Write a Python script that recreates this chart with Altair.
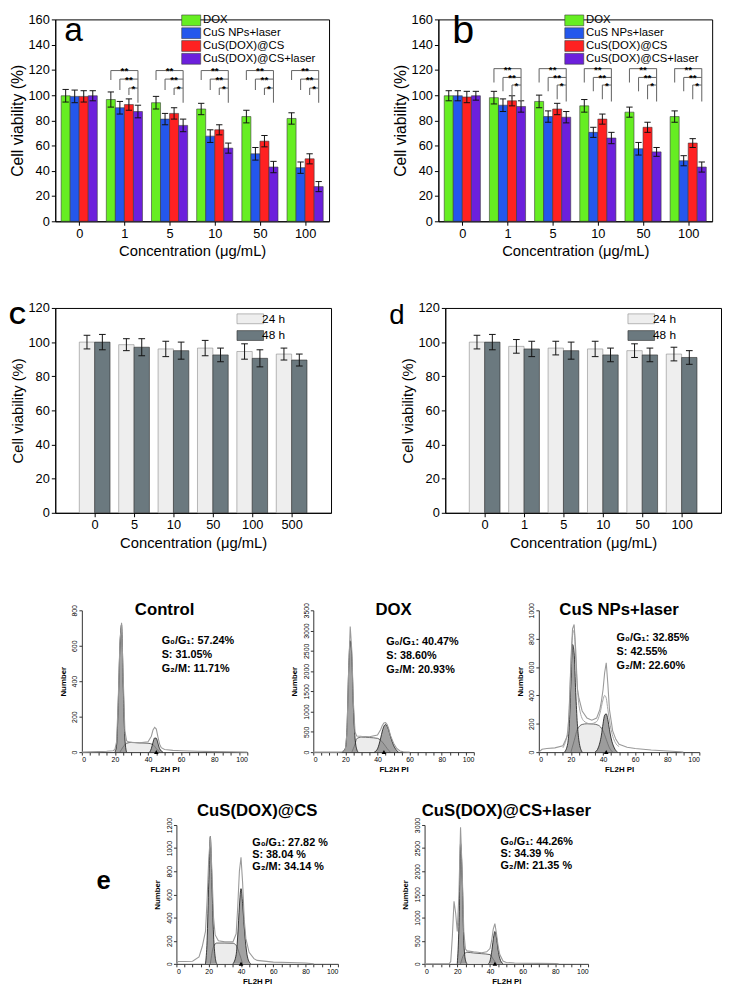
import json
import altair as alt
import pandas as pd

FONT = "Liberation Sans"

# ---------------- panels a & b ----------------
conc_ab = ["0", "1", "5", "10", "50", "100"]
series_ab = ["DOX", "CuS NPs+laser", "CuS(DOX)@CS", "CuS(DOX)@CS+laser"]
colors_ab = ["#66ee22", "#2457ec", "#ff2121", "#6c20dc"]

a_dox = [99.5, 96.5, 94.0, 89.0, 83.0, 81.5]
a_dox_err = [5.0, 6.0, 5.0, 4.5, 5.0, 4.5]
a_cus = [99.0, 90.0, 81.0, 67.5, 53.5, 42.5]
a_cus_err = [5.0, 5.0, 4.5, 5.0, 5.0, 4.5]
a_cs = [99.0, 92.5, 85.5, 72.5, 63.5, 49.5]
a_cs_err = [4.5, 4.5, 4.5, 4.0, 4.5, 4.0]
a_las = [99.5, 87.0, 76.0, 58.0, 43.0, 27.5]
a_las_err = [4.0, 5.0, 5.0, 4.0, 4.5, 4.0]
a_br_top = [119.5, 112.7, 105.6]
a_br_leg = [112.0, 104.0, 100.0]
a_br_right = 94.0

b_dox = [99.5, 98.0, 95.0, 91.5, 86.5, 83.0]
b_dox_err = [4.0, 5.0, 5.0, 5.0, 4.0, 4.5]
b_cus = [99.5, 92.0, 83.0, 70.5, 57.5, 48.0]
b_cus_err = [4.0, 5.0, 4.5, 4.0, 5.0, 4.0]
b_cs = [98.5, 95.5, 89.0, 81.0, 74.5, 62.0]
b_cs_err = [4.5, 4.0, 4.5, 4.0, 4.0, 3.5]
b_las = [99.5, 91.0, 82.5, 66.0, 55.0, 43.0]
b_las_err = [3.5, 4.5, 4.5, 4.5, 3.5, 4.0]
b_br_top = [121.0, 114.0, 108.0]
b_br_leg = [110.0, 103.0, 96.7]
b_br_right = 95.0
stars = ["**", "**", "*"]

# ---------------- panels c & d ----------------
conc_c = ["0", "5", "10", "50", "100", "500"]
conc_d = ["0", "1", "5", "10", "50", "100"]
series_cd = ["24 h", "48 h"]
fill_cd = ["#eeeeee", "#6b797f"]
c_24 = [100.0, 98.5, 96.0, 96.5, 94.5, 93.0]
c_24_err = [4.0, 3.5, 4.5, 4.5, 4.5, 3.5]
c_48 = [100.0, 97.0, 95.0, 92.5, 90.5, 89.5]
c_48_err = [4.5, 5.0, 5.0, 4.0, 5.0, 3.5]
d_24 = [100.0, 97.5, 96.5, 96.0, 95.0, 93.0]
d_24_err = [4.0, 4.0, 4.0, 4.5, 4.0, 4.0]
d_48 = [100.0, 96.0, 95.0, 92.5, 92.5, 91.0]
d_48_err = [4.5, 4.5, 5.0, 4.0, 4.0, 4.0]

# ---------------- panel e (cell cycle histograms) ----------------
ctrl_env_x = [0, 10, 15, 19, 20, 21, 22, 23, 24, 25, 26, 27, 28, 30, 35, 40, 42, 43, 44, 45, 46, 47, 48, 50, 55, 60, 70, 80, 90, 100]
ctrl_env_y = [0, 3, 5, 8, 15, 60, 300, 620, 730, 420, 120, 65, 58, 55, 52, 58, 90, 125, 140, 130, 85, 45, 25, 15, 10, 8, 5, 3, 2, 0]
ctrl_g1_x = [20, 21, 22, 23, 24, 25, 26, 27]
ctrl_g1_y = [0, 40, 280, 600, 720, 380, 80, 0]
ctrl_s_x = [23, 25, 27, 30, 35, 40, 43, 45, 47]
ctrl_s_y = [0, 30, 50, 55, 52, 50, 42, 20, 0]
ctrl_g2_x = [41, 42, 43, 44, 45, 46, 47, 49]
ctrl_g2_y = [0, 20, 55, 80, 78, 50, 20, 0]

dox_env_x = [0, 15, 18, 20, 21, 22, 23, 24, 25, 26, 27, 30, 35, 40, 42, 43, 44, 45, 46, 47, 48, 50, 52, 54, 56, 60]
dox_env_y = [0, 0, 10, 60, 500, 2000, 3100, 2500, 1200, 500, 400, 390, 380, 420, 560, 660, 720, 730, 680, 570, 420, 220, 90, 30, 10, 0]
dox_g1_x = [18, 20, 21, 22, 23, 24, 25, 26, 27, 28]
dox_g1_y = [0, 100, 600, 2000, 2750, 2350, 1100, 350, 80, 0]
dox_s_x = [24, 26, 27, 30, 35, 40, 42, 44, 46, 48]
dox_s_y = [0, 200, 330, 370, 360, 340, 290, 200, 90, 0]
dox_g2_x = [38, 40, 42, 43, 44, 45, 46, 47, 48, 50, 52, 53]
dox_g2_y = [0, 80, 350, 520, 640, 680, 640, 540, 400, 170, 40, 0]

cus_env_x = [0, 2, 5, 10, 15, 18, 19, 20, 21, 22, 23, 24, 25, 27, 30, 33, 36, 38, 39, 40, 41, 42, 43, 44, 46, 48, 50, 55, 60, 70, 80, 88, 90]
cus_env_y = [0, 20, 25, 30, 45, 120, 300, 650, 870, 900, 720, 450, 380, 290, 240, 225, 240, 300, 360, 440, 560, 630, 480, 300, 150, 90, 55, 35, 25, 15, 8, 3, 0]
cus_env2_x = [15, 18, 20, 21, 22, 23, 25, 28, 32, 36, 38, 40, 41, 42, 43, 45, 48, 50]
cus_env2_y = [30, 150, 600, 820, 860, 650, 330, 220, 200, 215, 270, 370, 400, 380, 300, 160, 60, 40]
cus_g1_x = [16, 18, 19, 20, 21, 22, 23, 24, 25, 27]
cus_g1_y = [0, 60, 200, 500, 760, 700, 420, 200, 80, 0]
cus_s_x = [20, 22, 24, 27, 30, 34, 37, 40, 42, 44, 46]
cus_s_y = [0, 80, 160, 195, 200, 198, 190, 150, 90, 30, 0]
cus_g2_x = [35, 37, 39, 40, 41, 42, 43, 44, 45, 47, 49]
cus_g2_y = [0, 30, 120, 200, 260, 270, 230, 160, 100, 30, 0]

cd_env_x = [0, 1, 5, 10, 14, 16, 18, 19, 20, 21, 22, 23, 24, 26, 30, 35, 37, 38, 39, 40, 41, 42, 43, 45, 48, 50, 60, 70, 80, 85]
cd_env_y = [0, 20, 20, 22, 60, 150, 280, 550, 900, 1100, 800, 400, 250, 200, 190, 190, 260, 500, 800, 920, 700, 380, 220, 100, 45, 30, 15, 12, 8, 0]
cd_g1_x = [18, 19, 20, 21, 22, 23, 24, 25]
cd_g1_y = [0, 200, 700, 1100, 700, 250, 60, 0]
cd_s_x = [21, 23, 25, 30, 35, 37, 39, 41]
cd_s_y = [0, 150, 180, 180, 178, 160, 90, 0]
cd_g2_x = [35, 37, 38, 39, 40, 41, 42, 43, 44, 46]
cd_g2_y = [0, 80, 250, 500, 650, 520, 320, 160, 60, 0]

cdl_env_x = [0, 15, 16, 17, 18, 19, 20, 21, 22, 23, 24, 25, 26, 30, 35, 38, 40, 41, 42, 43, 44, 45, 46, 48, 50, 55, 60, 70, 80, 82]
cdl_env_y = [0, 0, 50, 600, 1350, 1100, 700, 1500, 2950, 2000, 700, 320, 280, 260, 240, 260, 330, 500, 750, 870, 650, 380, 200, 60, 30, 20, 15, 10, 5, 0]
cdl_g1_x = [20, 21, 22, 23, 24, 25, 26]
cdl_g1_y = [0, 800, 2600, 1900, 500, 80, 0]
cdl_s_x = [22, 24, 26, 30, 35, 40, 42, 44]
cdl_s_y = [0, 200, 250, 235, 220, 200, 100, 0]
cdl_g2_x = [39, 40, 41, 42, 43, 44, 45, 46, 48]
cdl_g2_y = [0, 60, 250, 520, 700, 560, 300, 120, 0]

ctrl_stats = "G₀/G₁: 57.24%\nS: 31.05%\nG₂/M: 11.71%"
dox_stats = "G₀/G₁: 40.47%\nS: 38.60%\nG₂/M: 20.93%"
cus_stats = "G₀/G₁: 32.85%\n S: 42.55%\nG₂/M: 22.60%"
cd_stats = "G₀/G₁: 27.82 %\nS: 38.04 %\nG₂/M: 34.14 %"
cdl_stats = "G₀/G₁: 44.26%\nS: 34.39 %\nG₂/M: 21.35 %"


def df_xy(xs, ys):
    return pd.DataFrame({"x": xs, "y": ys})


def label_df(t):
    return pd.DataFrame({"t": [t]})


# ---------- grouped bar panel builder ----------
def bar_panel(labels, series, fills, strokes, vals, errs, bw, start, cap, ymax, ystep,
              xdom, width, height, letter, letter_pos, letter_size, letter_weight,
              legend_pos, sym_path, sym_size, row_pad, brackets=None,
              ytitle_size=16, xtitle_size=15, legend_font=12):
    bars, segs = [], []
    for k, (name, vs, es) in enumerate(zip(series, vals, errs)):
        for i, (v, e) in enumerate(zip(vs, es)):
            x0 = i + start + k * bw
            c = x0 + bw / 2
            bars.append(dict(series=name, x=x0, x2=x0 + bw, y=v, y0=0))
            segs.append(dict(x=c, x2=c, y=v - e, y2=v + e))
            segs.append(dict(x=c - cap, x2=c + cap, y=v - e, y2=v - e))
            segs.append(dict(x=c - cap, x2=c + cap, y=v + e, y2=v + e))
    bars_df = pd.DataFrame(bars)
    segs_df = pd.DataFrame(segs)

    X = alt.X("x:Q", scale=alt.Scale(domain=xdom, nice=False, zero=False),
              axis=alt.Axis(values=list(range(len(labels))),
                            labelExpr=f"{json.dumps(labels)}[round(datum.value)]",
                            title="Concentration (μg/mL)", titleFontSize=xtitle_size,
                            labelFontSize=13, tickSize=4, labelPadding=2, titlePadding=4,
                            grid=False))
    Y = alt.Y("y:Q", scale=alt.Scale(domain=[0, ymax], nice=False),
              axis=alt.Axis(values=list(range(0, ymax + 1, ystep)),
                            title="Cell viability (%)", titleFontSize=ytitle_size,
                            labelFontSize=13, tickSize=4, labelPadding=2, titlePadding=3,
                            grid=False))
    lx, ly = legend_pos
    layers = [
        alt.Chart(bars_df).mark_bar(strokeWidth=0.6).encode(
            x=X, x2=alt.X2("x2"), y=Y, y2=alt.Y2("y0"),
            color=alt.Color("series:N", scale=alt.Scale(domain=series, range=fills),
                            legend=alt.Legend(orient="none", legendX=lx, legendY=ly, title=None,
                                              symbolType=sym_path, symbolSize=sym_size,
                                              symbolStrokeColor="#444", symbolStrokeWidth=0.6,
                                              labelFontSize=legend_font, labelFont=FONT,
                                              rowPadding=row_pad, padding=0, labelOffset=6)),
            stroke=alt.Stroke("series:N", scale=alt.Scale(domain=series, range=strokes), legend=None),
        ),
        alt.Chart(segs_df).mark_rule(color="#111", strokeWidth=1).encode(
            x=X, x2=alt.X2("x2"), y=Y, y2=alt.Y2("y2")),
    ]
    if brackets is not None:
        tops, legs, right = brackets
        bsegs, btxt = [], []
        for i in range(1, len(labels)):
            cs = [i + start + k * bw + bw / 2 for k in range(len(series))]
            cr = cs[-1]
            bsegs.append(dict(x=cr, x2=cr, y=right, y2=tops[0]))
            for j in range(3):
                bsegs.append(dict(x=cs[j], x2=cr, y=tops[j], y2=tops[j]))
                bsegs.append(dict(x=cs[j], x2=cs[j], y=legs[j], y2=tops[j]))
                btxt.append(dict(x=(cs[j] + cr) / 2, y=tops[j], t=stars[j]))
        layers.append(alt.Chart(pd.DataFrame(bsegs)).mark_rule(color="#6d6d6d", strokeWidth=1.1).encode(
            x=X, x2=alt.X2("x2"), y=Y, y2=alt.Y2("y2")))
        layers.append(alt.Chart(pd.DataFrame(btxt)).mark_text(
            fontSize=10, font=FONT, baseline="alphabetic", dy=4, fontWeight="bold").encode(
            x=X, y=Y, text="t:N"))
    layers.append(alt.Chart(label_df(letter)).mark_text(
        align="left", baseline="middle", fontSize=letter_size, font=FONT,
        fontWeight=letter_weight).encode(
        x=alt.value(letter_pos[0]), y=alt.value(letter_pos[1]), text="t:N"))
    return alt.layer(*layers).properties(
        width=width, height=height,
        view=alt.ViewBackground(stroke="black", strokeWidth=1))


# ---------- flow histogram panel builder ----------
def flow_panel(title, ymax, ystep, env, g1, s, g2, tri_x, stats, stats_pos, line_h,
               title_y, width=163, height=144, env2=None):
    X = alt.X("x:Q", scale=alt.Scale(domain=[0, 100], nice=False),
              axis=alt.Axis(values=list(range(0, 101, 5)),
                            labelExpr="datum.value % 20 === 0 ? datum.label : ''",
                            labelFontSize=7, tickSize=3, labelPadding=1, title="FL2H PI",
                            titleFontSize=8, titleFontWeight="bold", titlePadding=3,
                            grid=False, domainColor="#333", tickColor="#333"))
    Y = alt.Y("y:Q", scale=alt.Scale(domain=[0, ymax], nice=False),
              axis=alt.Axis(values=list(range(0, ymax + 1, ystep)), labelAngle=270, format="d",
                            labelFontSize=7, tickSize=3, labelPadding=1, title="Number",
                            titleFontSize=8, titleFontWeight="bold", titlePadding=4,
                            grid=False, domainColor="#333", tickColor="#333"))
    layers = [
        alt.Chart(df_xy(*s)).mark_area(interpolate="monotone", color="#e4e4e4",
                                         line={"color": "#444", "strokeWidth": 0.8}).encode(x=X, y=Y),
        alt.Chart(df_xy(*g1)).mark_area(interpolate="monotone", color="#7b7b7b",
                                          line={"color": "#111", "strokeWidth": 0.8}).encode(x=X, y=Y),
        alt.Chart(df_xy(*g2)).mark_area(interpolate="monotone", color="#7b7b7b",
                                          line={"color": "#111", "strokeWidth": 0.8}).encode(x=X, y=Y),
    ]
    if env2 is not None:
        layers.append(alt.Chart(df_xy(*env2)).mark_line(color="#a5a5a5", strokeWidth=1,
                                                          interpolate="monotone").encode(x=X, y=Y))
    layers += [
        alt.Chart(df_xy(*env)).mark_line(color="#9a9a9a", strokeWidth=1.1).encode(x=X, y=Y),
        alt.Chart(df_xy([tri_x], [0])).mark_point(shape="triangle-up", filled=True, color="black",
                                                  size=22, opacity=1).encode(x=X, y=Y),
        alt.Chart(label_df(title)).mark_text(fontSize=17, fontWeight="bold", font=FONT,
                                             baseline="middle").encode(
            x=alt.value(width / 2), y=alt.value(title_y), text="t:N"),
        alt.Chart(label_df(stats)).mark_text(fontSize=11, fontWeight="bold", font=FONT,
                                             align="left", baseline="top", lineBreak="\n",
                                             lineHeight=line_h).encode(
            x=alt.value(stats_pos[0]), y=alt.value(stats_pos[1]), text="t:N"),
    ]
    return alt.layer(*layers).properties(width=width, height=height)


def spacer(w, h):
    return alt.Chart(label_df("")).mark_text().encode(text="t:N").properties(width=w, height=h)


rect_ab = "M-1.75,-1L1.75,-1L1.75,1L-1.75,1Z"
rect_cd = "M-2.7,-1L2.7,-1L2.7,1L-2.7,1Z"

panel_a = bar_panel(conc_ab, series_ab, colors_ab, ["#3a3a3a"] * 4,
                    [a_dox, a_cus, a_cs, a_las], [a_dox_err, a_cus_err, a_cs_err, a_las_err],
                    0.2, -0.4, 0.07, 160, 20, [-0.53, 5.53], 278, 205,
                    "a", (9, 12), 34, "normal", (132, -5), rect_ab, 121, -4,
                    brackets=(a_br_top, a_br_leg, a_br_right), legend_font=11.5)
panel_b = bar_panel(conc_ab, series_ab, colors_ab, ["#3a3a3a"] * 4,
                    [b_dox, b_cus, b_cs, b_las], [b_dox_err, b_cus_err, b_cs_err, b_las_err],
                    0.2, -0.4, 0.07, 160, 20, [-0.53, 5.53], 278, 205,
                    "b", (14, 12), 40, "normal", (132, -5), rect_ab, 121, -4,
                    brackets=(b_br_top, b_br_leg, b_br_right), legend_font=11.5)
panel_c = bar_panel(conc_c, series_cd, fill_cd, ["#8a8a8a", "#2a2a2a"],
                    [c_24, c_48], [c_24_err, c_48_err],
                    0.39, -0.39, 0.085, 120, 20, [-1.0, 6.0], 280, 208,
                    "C", (-47, 9), 24, "bold", (192, 5), rect_cd, 100, 3,
                    ytitle_size=15, xtitle_size=15)
panel_d = bar_panel(conc_d, series_cd, fill_cd, ["#8a8a8a", "#2a2a2a"],
                    [d_24, d_48], [d_24_err, d_48_err],
                    0.39, -0.39, 0.085, 120, 20, [-1.0, 6.0], 280, 208,
                    "d", (-57, 8), 28, "normal", (193, 5), rect_cd, 100, 3,
                    ytitle_size=15, xtitle_size=15)

p_ctrl = flow_panel("Control", 800, 200, (ctrl_env_x, ctrl_env_y), (ctrl_g1_x, ctrl_g1_y),
                    (ctrl_s_x, ctrl_s_y), (ctrl_g2_x, ctrl_g2_y), 45, ctrl_stats, (81, 25), 14.5, 0,
                    width=168)
p_dox = flow_panel("DOX", 3500, 500, (dox_env_x, dox_env_y), (dox_g1_x, dox_g1_y),
                   (dox_s_x, dox_s_y), (dox_g2_x, dox_g2_y), 44, dox_stats, (74, 26), 14.5, 0)
p_cus = flow_panel("CuS NPs+laser", 1000, 200, (cus_env_x, cus_env_y), (cus_g1_x, cus_g1_y),
                   (cus_s_x, cus_s_y), (cus_g2_x, cus_g2_y), 42, cus_stats, (79, 22), 14.5, 0,
                   env2=(cus_env2_x, cus_env2_y))
p_cd = flow_panel("CuS(DOX)@CS", 1200, 200, (cd_env_x, cd_env_y), (cd_g1_x, cd_g1_y),
                  (cd_s_x, cd_s_y), (cd_g2_x, cd_g2_y), 40, cd_stats, (77, 12), 12.5, -14,
                  width=164, height=141)
p_cdl = flow_panel("CuS(DOX)@CS+laser", 3000, 500, (cdl_env_x, cdl_env_y), (cdl_g1_x, cdl_g1_y),
                   (cdl_s_x, cdl_s_y), (cdl_g2_x, cdl_g2_y), 43, cdl_stats, (77, 11), 12.5, -14,
                   width=166, height=141)

e_label = alt.Chart(label_df("e")).mark_text(fontSize=26, fontWeight="bold", font=FONT,
                                             baseline="middle", align="center").encode(
    x=alt.value(49), y=alt.value(57), text="t:N").properties(width=70, height=141)

row1 = alt.hconcat(panel_a, panel_b, spacing=62).resolve_scale(color="independent", stroke="independent")
row2 = alt.hconcat(panel_c, panel_d, spacing=57).resolve_scale(color="independent", stroke="independent")
row3 = alt.hconcat(spacer(4, 1), alt.hconcat(p_ctrl, p_dox, p_cus, spacing=41), spacing=0)
row4 = alt.hconcat(e_label, alt.hconcat(p_cd, p_cdl, spacing=64), spacing=30)

chart = alt.vconcat(row1, spacer(1, 42), row2, spacer(1, 51), row3, spacer(1, 29), row4,
                    spacing=0).resolve_scale(color="independent", stroke="independent").properties(
    padding={"left": 0, "top": -5, "right": 0, "bottom": 0}, background="white").configure_view(
    strokeWidth=0).configure_axis(
    labelFont=FONT, titleFont=FONT, labelColor="black", titleColor="black",
    domainColor="black", tickColor="black", titleFontWeight="normal").configure_legend(
    labelFont=FONT).configure_text(font=FONT)

chart.save("out.html", embed_options={"renderer": "svg", "actions": False})
